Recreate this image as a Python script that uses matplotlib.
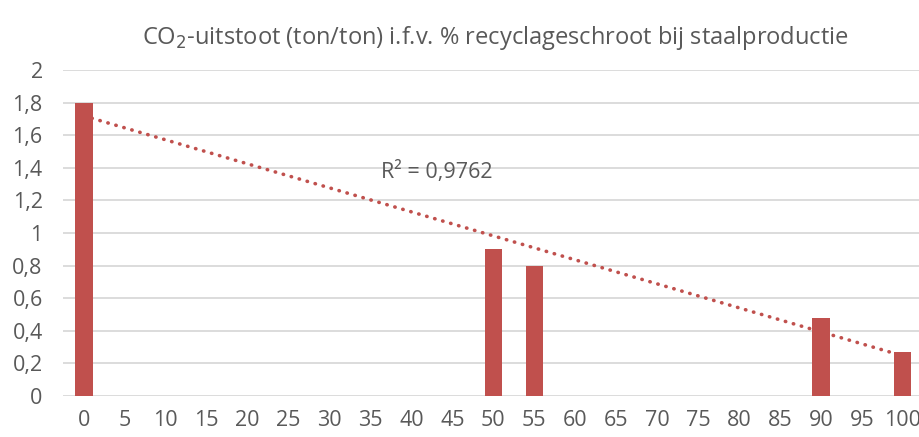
import matplotlib
matplotlib.use('Agg')

import matplotlib.pyplot as plt
import numpy as np

# % recyclageschroot (categories) and CO2 uitstoot (ton/ton)
categories = list(range(0, 101, 5))
pct_known = [0, 50, 55, 90, 100]
co2_known = [1.8, 0.9, 0.8, 0.48, 0.27]
y_ticks = [0, 0.2, 0.4, 0.6, 0.8, 1, 1.2, 1.4, 1.6, 1.8, 2]
r2_label = "R² = 0,9762"

bar_color = '#C0504D'
text_color = '#595959'
grid_color = '#D9D9D9'

plt.rcParams['font.family'] = ['Open Sans', 'DejaVu Sans']

fig = plt.figure(figsize=(9.2, 4.37), dpi=100)
ax = fig.add_axes([0.069, 0.0938, 0.931, 0.746])

idx = np.arange(len(categories))
values = [co2_known[pct_known.index(c)] if c in pct_known else 0 for c in categories]
ax.bar(idx, values, width=0.42, color=bar_color, zorder=3)

# linear trendline over the points with data (Excel style)
known_idx = np.array([categories.index(c) for c in pct_known])
slope, intercept = np.polyfit(known_idx, co2_known, 1)
ax.plot(idx, slope * idx + intercept, linestyle=(0, (0.1, 2.2)), dash_capstyle='round',
        color=bar_color, linewidth=2.6, zorder=4)
ax.text(7.25, 1.374, r2_label, fontsize=15.5, color=text_color, va='center', ha='left')

ax.set_xlim(-0.5, 20.42)
ax.set_ylim(0, 2)
ax.set_xticks(idx)
ax.set_xticklabels([str(c) for c in categories])
ax.set_yticks(y_ticks)
ax.set_yticklabels([f"{t:g}".replace('.', ',') for t in y_ticks])
ax.tick_params(axis='both', length=0, labelsize=15.5, labelcolor=text_color)
ax.tick_params(axis='y', pad=15)
ax.tick_params(axis='x', pad=10)
ax.yaxis.grid(True, color=grid_color, linewidth=1.3, zorder=0)
ax.set_axisbelow(True)
for s in ax.spines.values():
    s.set_visible(False)

fig.text(0.538, 0.912, "CO$_2$-uitstoot (ton/ton) i.f.v. % recyclageschroot bij staalproductie",
         ha='center', va='center', fontsize=17, color=text_color)

plt.savefig('out.png', dpi=100)
